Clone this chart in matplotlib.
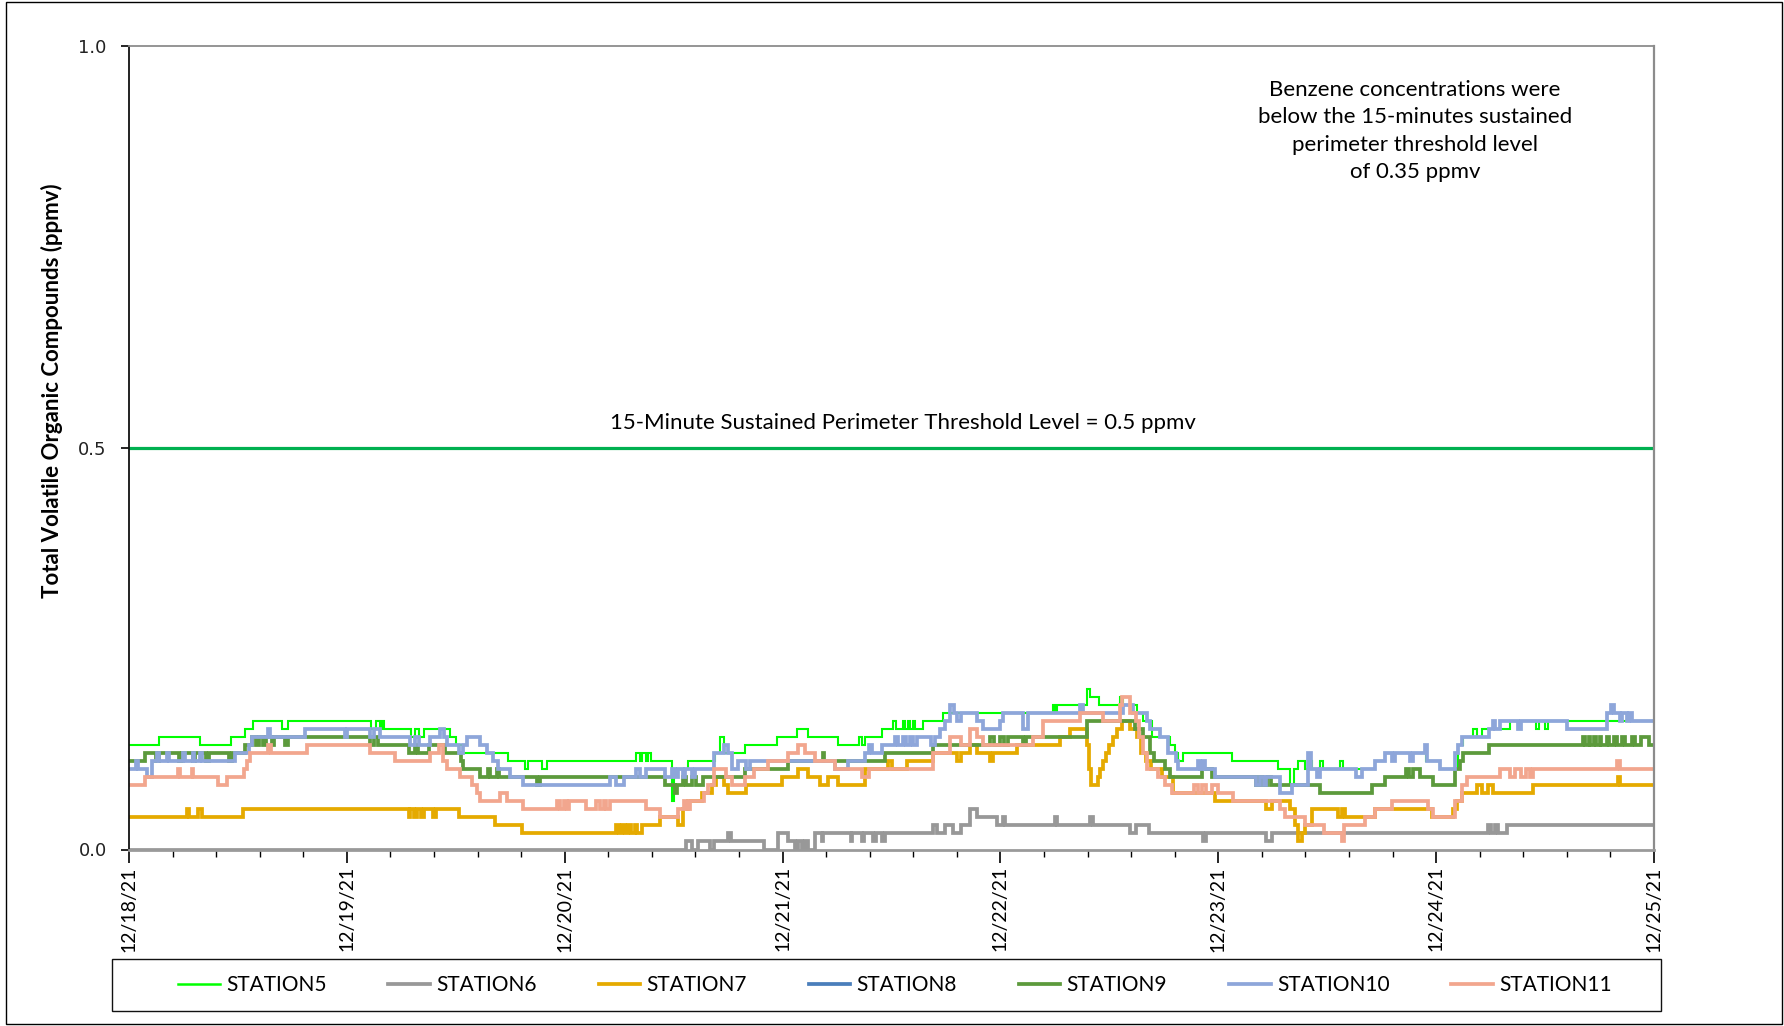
import datetime as dt
import matplotlib
matplotlib.use("Agg")
import matplotlib.pyplot as plt
import matplotlib.dates as mdates
from matplotlib.ticker import MultipleLocator, FixedLocator, FormatStrFormatter
from matplotlib.patches import Rectangle

# ---------------- data (hours since 12/18/21 00:00, ppmv) ----------------
START = dt.datetime(2021, 12, 18)
END_HOURS = 168
THRESHOLD = 0.5
Y_TICKS = [0.0, 0.5, 1.0]

STATION5 = [(0, 0.13), (3.3, 0.14), (7.8, 0.13), (11.2, 0.14), (12.8, 0.15), (13.7, 0.16), (16.8, 0.15),
            (17.5, 0.16), (26.7, 0.15), (27.2, 0.16), (27.6, 0.15), (27.9, 0.16), (28.1, 0.15), (31.1, 0.14),
            (31.5, 0.15), (32.0, 0.14), (32.5, 0.15), (35.4, 0.14), (36.0, 0.13), (36.8, 0.12), (41.8, 0.11),
            (43.6, 0.10), (44.0, 0.11), (45.5, 0.10), (46.0, 0.11), (55.9, 0.12), (56.3, 0.11), (56.5, 0.12),
            (57.0, 0.11), (57.2, 0.12), (57.5, 0.11), (59.8, 0.06), (60.0, 0.09), (60.5, 0.10), (61.6, 0.11),
            (64.6, 0.12), (65.1, 0.14), (65.5, 0.12), (67.9, 0.13), (71.4, 0.14), (73.6, 0.15), (74.8, 0.14),
            (78.1, 0.13), (80.4, 0.14), (80.7, 0.13), (81.1, 0.14), (82.9, 0.15), (84.2, 0.16), (84.5, 0.15),
            (85.3, 0.16), (85.5, 0.15), (85.85, 0.16), (86.0, 0.15), (86.4, 0.16), (86.6, 0.15), (87.5, 0.16),
            (89.7, 0.17), (101.8, 0.18), (102.0, 0.17), (102.2, 0.18), (105.5, 0.20), (105.9, 0.19),
            (106.9, 0.18), (109.2, 0.19), (109.5, 0.18), (111.0, 0.17), (111.7, 0.16), (112.7, 0.14),
            (114.7, 0.13), (115.2, 0.12), (115.6, 0.11), (116.1, 0.12), (121.5, 0.11), (126.6, 0.10),
            (127.9, 0.08), (128.3, 0.10), (128.8, 0.11), (129.5, 0.10), (129.9, 0.11), (130.3, 0.10),
            (131.2, 0.11), (131.5, 0.10), (133.4, 0.11), (133.7, 0.10), (137.3, 0.11), (138.4, 0.12),
            (142.9, 0.11), (144.4, 0.10), (146.4, 0.13), (147.0, 0.14), (148.1, 0.15), (148.5, 0.14),
            (149.0, 0.15), (152.1, 0.16), (153.0, 0.15), (153.3, 0.16), (155.0, 0.15), (155.3, 0.16),
            (156.0, 0.15), (156.3, 0.16)]

STATION6 = [(0, 0.0), (61.4, 0.01), (62.0, 0.0), (62.7, 0.01), (64.0, 0.0), (64.5, 0.01), (66.0, 0.02),
            (66.3, 0.01), (69.9, 0.0), (71.5, 0.02), (72.6, 0.01), (73.4, 0.0), (73.7, 0.01), (74.1, 0.0),
            (74.5, 0.01), (74.8, 0.0), (75.6, 0.02), (76.3, 0.01), (76.5, 0.02), (79.5, 0.01), (79.7, 0.02),
            (80.7, 0.01), (81.0, 0.02), (82.0, 0.01), (82.3, 0.02), (83.0, 0.01), (83.3, 0.02), (88.6, 0.03),
            (89.0, 0.02), (89.9, 0.03), (90.8, 0.02), (91.7, 0.03), (92.6, 0.05), (93.4, 0.04), (95.6, 0.03),
            (96.3, 0.04), (96.5, 0.03), (102.0, 0.04), (102.2, 0.03), (105.9, 0.04), (106.2, 0.03),
            (110.3, 0.02), (110.9, 0.03), (112.4, 0.02), (118.3, 0.01), (118.7, 0.02), (125.3, 0.01),
            (125.9, 0.02), (149.7, 0.03), (150.0, 0.02), (150.5, 0.03), (150.8, 0.02), (151.8, 0.03)]

STATION7 = [(0, 0.04), (6.35, 0.05), (6.6, 0.04), (7.6, 0.05), (8.0, 0.04), (12.6, 0.05), (30.8, 0.04),
            (31.0, 0.05), (31.4, 0.04), (31.7, 0.05), (32.2, 0.04), (32.5, 0.05), (33.5, 0.04), (33.8, 0.05),
            (36.3, 0.04), (40.3, 0.03), (43.3, 0.02), (53.7, 0.03), (54.0, 0.02), (54.3, 0.03), (54.6, 0.02),
            (55.0, 0.03), (55.3, 0.02), (55.7, 0.03), (56.0, 0.02), (56.5, 0.03), (58.5, 0.04), (60.5, 0.03),
            (61.0, 0.05), (61.6, 0.06), (63.1, 0.07), (64.2, 0.08), (64.7, 0.09), (65.5, 0.08), (66.0, 0.07),
            (68.0, 0.08), (71.9, 0.09), (73.7, 0.10), (74.8, 0.09), (76.1, 0.08), (77.0, 0.09), (78.1, 0.08),
            (81.1, 0.10), (83.6, 0.11), (84.0, 0.10), (85.7, 0.11), (88.6, 0.12), (91.2, 0.11), (91.7, 0.12),
            (92.6, 0.13), (93.4, 0.12), (94.9, 0.11), (95.2, 0.12), (97.8, 0.13), (102.6, 0.14), (103.7, 0.15),
            (105.5, 0.13), (105.8, 0.10), (106.0, 0.08), (106.8, 0.09), (107.0, 0.10), (107.3, 0.11),
            (107.6, 0.12), (108.0, 0.13), (108.4, 0.14), (108.8, 0.15), (109.4, 0.16), (110.3, 0.15),
            (111.0, 0.14), (111.5, 0.12), (112.0, 0.11), (112.6, 0.10), (113.8, 0.09), (115.0, 0.07),
            (119.6, 0.06), (125.3, 0.05), (125.9, 0.06), (127.9, 0.05), (128.5, 0.03), (128.8, 0.01),
            (129.2, 0.02), (129.5, 0.03), (130.3, 0.05), (133.2, 0.04), (133.6, 0.05), (134.0, 0.04),
            (137.3, 0.05), (143.5, 0.04), (145.9, 0.05), (146.3, 0.06), (146.8, 0.07), (148.5, 0.08),
            (149.0, 0.07), (149.7, 0.08), (150.3, 0.07), (154.7, 0.08), (164.0, 0.09), (164.2, 0.08)]

STATION8 = []  # no data shown

STATION9 = [(0, 0.11), (1.8, 0.12), (3.0, 0.11), (3.3, 0.12), (5.5, 0.11), (5.8, 0.12), (7.0, 0.11),
            (7.3, 0.12), (8.5, 0.11), (8.8, 0.12), (11.0, 0.11), (11.4, 0.12), (12.8, 0.13), (13.5, 0.14),
            (14.0, 0.13), (14.3, 0.14), (14.8, 0.13), (15.1, 0.14), (15.8, 0.13), (16.0, 0.14), (17.2, 0.13),
            (17.5, 0.14), (26.6, 0.13), (27.0, 0.14), (27.4, 0.13), (30.8, 0.12), (31.5, 0.13), (31.8, 0.12),
            (33.0, 0.13), (34.8, 0.12), (36.6, 0.11), (36.8, 0.10), (38.7, 0.09), (39.5, 0.10), (39.8, 0.09),
            (40.5, 0.10), (40.8, 0.09), (45.0, 0.08), (45.3, 0.09), (59.1, 0.08), (60.1, 0.07), (60.4, 0.08),
            (61.0, 0.09), (61.4, 0.08), (62.0, 0.09), (62.5, 0.08), (63.2, 0.09), (67.9, 0.10), (72.6, 0.11),
            (76.4, 0.12), (76.6, 0.11), (83.3, 0.12), (88.6, 0.13), (94.9, 0.14), (95.3, 0.13), (96.0, 0.14),
            (96.4, 0.13), (96.8, 0.14), (98.5, 0.13), (98.8, 0.14), (105.5, 0.16), (110.8, 0.15),
            (111.7, 0.14), (112.5, 0.12), (112.9, 0.11), (114.1, 0.10), (114.7, 0.09), (118.2, 0.10),
            (119.3, 0.09), (124.2, 0.08), (124.6, 0.09), (125.0, 0.08), (125.4, 0.09), (125.8, 0.08),
            (131.2, 0.07), (136.9, 0.08), (138.4, 0.09), (140.7, 0.10), (141.0, 0.09), (141.5, 0.10),
            (142.2, 0.09), (143.7, 0.08), (146.1, 0.10), (146.6, 0.11), (147.0, 0.12), (149.8, 0.13),
            (160.2, 0.14), (160.4, 0.13), (160.8, 0.14), (161.0, 0.13), (161.4, 0.14), (161.6, 0.13),
            (162.0, 0.14), (162.2, 0.13), (162.8, 0.14), (163.0, 0.13), (163.6, 0.14), (163.9, 0.13),
            (164.5, 0.14), (164.8, 0.13), (165.6, 0.14), (165.9, 0.13), (166.6, 0.14), (167.4, 0.13)]

STATION10 = [(0, 0.10), (0.8, 0.11), (1.0, 0.10), (1.95, 0.09), (2.5, 0.11), (3.1, 0.12), (3.3, 0.11),
             (4.2, 0.12), (4.4, 0.11), (6.0, 0.12), (6.2, 0.11), (7.0, 0.12), (7.2, 0.11), (7.8, 0.12),
             (8.0, 0.11), (11.7, 0.12), (13.2, 0.13), (13.5, 0.14), (15.3, 0.15), (15.5, 0.14), (19.4, 0.15),
             (23.8, 0.14), (24.0, 0.15), (26.6, 0.14), (27.0, 0.15), (27.6, 0.14), (31.0, 0.13), (31.5, 0.14),
             (32.0, 0.13), (33.2, 0.14), (34.3, 0.15), (34.7, 0.14), (35.0, 0.13), (36.3, 0.12), (36.8, 0.13),
             (37.2, 0.14), (38.7, 0.13), (39.4, 0.12), (40.1, 0.11), (40.7, 0.10), (42.0, 0.09), (43.4, 0.08),
             (53.0, 0.09), (53.7, 0.08), (54.5, 0.09), (55.9, 0.10), (56.3, 0.09), (57.0, 0.10), (59.1, 0.09),
             (59.8, 0.10), (60.2, 0.09), (60.5, 0.10), (61.0, 0.09), (61.3, 0.10), (62.0, 0.09), (62.3, 0.10),
             (64.4, 0.12), (65.6, 0.13), (66.0, 0.12), (66.4, 0.10), (67.1, 0.11), (68.0, 0.10), (68.4, 0.11),
             (77.8, 0.10), (79.2, 0.11), (81.1, 0.12), (81.5, 0.13), (81.8, 0.12), (82.9, 0.13), (84.4, 0.14),
             (84.7, 0.13), (85.3, 0.14), (85.6, 0.13), (86.0, 0.14), (86.4, 0.13), (86.8, 0.14), (88.4, 0.13),
             (88.8, 0.14), (89.3, 0.15), (89.9, 0.16), (90.4, 0.18), (90.9, 0.17), (91.2, 0.16), (91.7, 0.17),
             (93.4, 0.16), (94.1, 0.15), (95.9, 0.16), (96.3, 0.17), (98.5, 0.15), (99.0, 0.17), (104.8, 0.18),
             (105.1, 0.17), (109.5, 0.18), (110.6, 0.17), (112.1, 0.16), (112.5, 0.15), (113.6, 0.14),
             (114.5, 0.12), (115.3, 0.11), (115.6, 0.10), (117.8, 0.11), (118.0, 0.10), (118.3, 0.11),
             (118.5, 0.10), (119.6, 0.09), (124.2, 0.08), (124.6, 0.09), (125.0, 0.08), (125.3, 0.09),
             (126.8, 0.07), (128.1, 0.08), (129.9, 0.12), (130.2, 0.10), (130.9, 0.09), (131.2, 0.10),
             (135.2, 0.09), (135.8, 0.10), (137.3, 0.11), (138.4, 0.12), (139.1, 0.11), (139.5, 0.12),
             (141.1, 0.11), (141.5, 0.12), (142.8, 0.13), (143.0, 0.11), (144.4, 0.10), (146.1, 0.12),
             (146.4, 0.13), (146.8, 0.14), (149.8, 0.15), (150.3, 0.16), (150.5, 0.15), (151.0, 0.16),
             (153.0, 0.15), (153.3, 0.16), (158.4, 0.15), (162.8, 0.17), (163.3, 0.18), (163.6, 0.17),
             (164.2, 0.16), (164.5, 0.17), (165.0, 0.16), (165.3, 0.17), (165.6, 0.16)]

STATION11 = [(0, 0.08), (1.8, 0.09), (5.4, 0.10), (5.6, 0.09), (6.9, 0.10), (7.1, 0.09), (9.8, 0.08),
             (10.8, 0.09), (12.7, 0.10), (13.0, 0.11), (13.3, 0.12), (15.3, 0.13), (15.6, 0.12), (19.6, 0.13),
             (26.6, 0.12), (29.3, 0.11), (33.2, 0.12), (34.1, 0.13), (34.6, 0.11), (35.0, 0.10), (36.5, 0.09),
             (37.75, 0.08), (38.3, 0.07), (38.7, 0.06), (40.9, 0.07), (41.6, 0.06), (43.4, 0.05), (47.1, 0.06),
             (47.5, 0.05), (47.9, 0.06), (48.2, 0.05), (48.5, 0.06), (50.4, 0.05), (51.5, 0.06), (51.9, 0.05),
             (52.3, 0.06), (52.6, 0.05), (53.0, 0.06), (57.0, 0.05), (58.5, 0.04), (60.5, 0.05), (61.1, 0.06),
             (61.5, 0.05), (61.8, 0.06), (63.3, 0.07), (63.8, 0.08), (64.5, 0.10), (65.8, 0.09), (66.4, 0.08),
             (67.9, 0.09), (68.8, 0.10), (70.4, 0.11), (72.6, 0.12), (73.7, 0.13), (74.5, 0.12), (75.6, 0.11),
             (77.8, 0.10), (80.7, 0.09), (81.5, 0.10), (88.6, 0.12), (90.4, 0.14), (91.7, 0.13), (92.6, 0.15),
             (93.4, 0.14), (94.1, 0.13), (99.6, 0.14), (100.7, 0.16), (104.8, 0.17), (107.3, 0.16),
             (109.2, 0.18), (109.4, 0.19), (110.3, 0.17), (110.9, 0.16), (111.3, 0.14), (111.7, 0.12),
             (112.2, 0.10), (113.4, 0.09), (114.1, 0.08), (114.9, 0.07), (117.3, 0.08), (117.8, 0.07),
             (118.2, 0.08), (118.7, 0.07), (119.3, 0.08), (120.0, 0.07), (121.6, 0.06), (126.8, 0.05),
             (127.3, 0.04), (129.6, 0.03), (131.6, 0.02), (133.6, 0.01), (133.9, 0.03), (136.2, 0.04),
             (137.3, 0.05), (139.1, 0.06), (143.1, 0.05), (143.7, 0.04), (146.1, 0.06), (146.8, 0.08),
             (147.4, 0.09), (151.0, 0.10), (152.1, 0.09), (152.7, 0.10), (153.4, 0.09), (153.9, 0.10),
             (154.3, 0.09), (154.7, 0.10), (163.9, 0.11), (164.2, 0.10)]

SERIES_NAMES = ["STATION5", "STATION6", "STATION7", "STATION8", "STATION9", "STATION10", "STATION11"]
SERIES_DATA = [STATION5, STATION6, STATION7, STATION8, STATION9, STATION10, STATION11]
SERIES_COLORS = ["#00FF00", "#989898", "#E5AA00", "#4A7EBB", "#5C9A3C", "#8EA6DA", "#F2A68E"]
SERIES_LW = [1.5, 2.7, 2.7, 2.7, 2.7, 2.7, 2.7]

# ---------------- figure ----------------
W, H = 1784, 1026
fig = plt.figure(figsize=(W / 100, H / 100), dpi=100)
fig.patch.set_facecolor("white")

L, R, T, B = 129, 1654, 46, 849.5
ax = fig.add_axes([L / W, 1 - B / H, (R - L) / W, (B - T) / H])

t0 = mdates.date2num(START)
lines = []
for name, data, col, lw in zip(SERIES_NAMES, SERIES_DATA, SERIES_COLORS, SERIES_LW):
    if data:
        hrs = [p[0] for p in data] + [END_HOURS]
        vals = [p[1] for p in data] + [data[-1][1]]
    else:
        hrs, vals = [], []
    x = [t0 + h / 24.0 for h in hrs]
    ln, = ax.plot(x, vals, color=col, lw=lw, drawstyle="steps-post", label=name,
                  solid_joinstyle="miter")
    lines.append(ln)

ax.axhline(THRESHOLD, color="#00B050", lw=2.3, zorder=1)

ax.set_xlim(t0, t0 + END_HOURS / 24.0)
ax.set_ylim(0, 1.0)

ax.xaxis.set_major_locator(mdates.DayLocator())
ax.xaxis.set_major_formatter(mdates.DateFormatter("%m/%d/%y"))
ax.xaxis.set_minor_locator(MultipleLocator(0.2))
ax.yaxis.set_major_locator(FixedLocator(Y_TICKS))
ax.yaxis.set_major_formatter(FormatStrFormatter("%.1f"))

for lab in ax.get_xticklabels():
    lab.set_rotation(90)
    lab.set_family(["Lato", "DejaVu Sans"])
    lab.set_fontsize(14)
for lab in ax.get_yticklabels():
    lab.set_family(["DejaVu Sans"])
    lab.set_fontsize(13)
    lab.set_color("#222222")

ax.tick_params(axis="x", which="major", length=9, width=1.2, direction="out", pad=3, colors="black")
ax.tick_params(axis="x", which="minor", length=5, width=1.0, direction="out", colors="black")
ax.tick_params(axis="y", which="major", length=6, width=1.2, direction="out", pad=10)

ax.spines["left"].set_color("#111111")
ax.spines["left"].set_linewidth(1.3)
ax.spines["bottom"].set_color("#9a9a9a")
ax.spines["bottom"].set_linewidth(2.0)
ax.spines["top"].set_color("#8c8c8c")
ax.spines["top"].set_linewidth(1.3)
ax.spines["right"].set_color("#8c8c8c")
ax.spines["right"].set_linewidth(1.6)

# texts
fig.text(52 / W, 1 - 391 / H, "Total Volatile Organic Compounds (ppmv)", rotation=90,
         ha="center", va="center", fontsize=16, fontweight="bold", family=["Lato", "DejaVu Sans"])
fig.text(903 / W, 1 - 423 / H, "15-Minute Sustained Perimeter Threshold Level = 0.5 ppmv",
         ha="center", va="center", fontsize=16, family=["Lato", "DejaVu Sans"])
fig.text(1415 / W, 1 - 131 / H,
         "Benzene concentrations were\nbelow the 15-minutes sustained\nperimeter threshold level\nof 0.35 ppmv",
         ha="center", va="center", fontsize=16, linespacing=1.45, family=["Lato", "DejaVu Sans"])

# legend
leg = fig.legend(handles=lines, labels=SERIES_NAMES, ncol=7, loc="center",
                 bbox_to_anchor=(170 / W, 1 - 1000 / H, (1620 - 170) / W, 30 / H),
                 mode="expand", frameon=False, handlelength=2.0, handletextpad=0.3,
                 borderaxespad=0, prop={"family": ["Lato", "DejaVu Sans"], "size": 15})
for h in leg.legend_handles:
    h.set_linewidth(2.7)
leg.legend_handles[0].set_linewidth(1.8)
fig.add_artist(Rectangle((111.5 / W, 1 - 1011 / H), (1661 - 111.5) / W, (1011 - 959) / H,
                         transform=fig.transFigure, fill=False, ec="#111111", lw=1.0))

# outer frame
fig.add_artist(Rectangle((6 / W, 2 / H), (1782 - 6) / W, (1024 - 2) / H,
                         transform=fig.transFigure, fill=False, ec="black", lw=1.0))

fig.savefig("out.png", dpi=100)
